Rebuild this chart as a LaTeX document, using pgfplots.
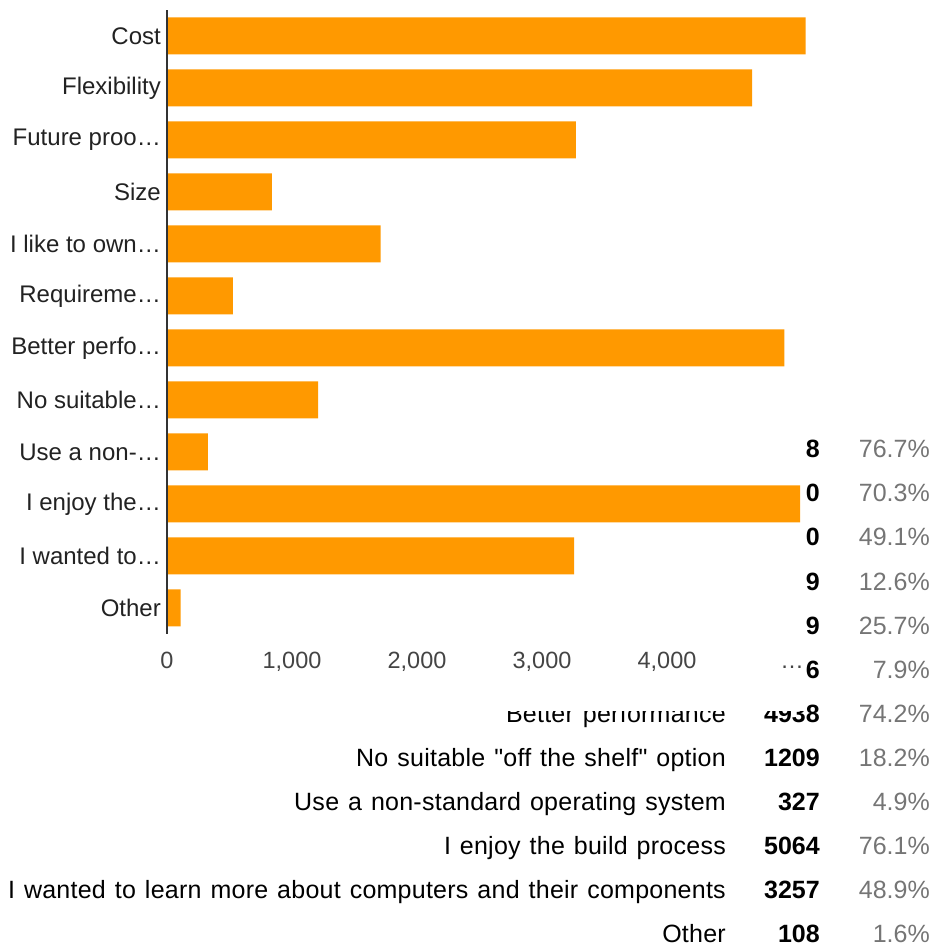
\documentclass[border=0pt]{standalone}
\usepackage{fontspec}
\setmainfont{Liberation Sans}[Ligatures=TeXOff]
\newfontfamily\labelfamily{Liberation Sans}[Ligatures=TeXOff, LetterSpace=1, WordSpace=1.25]
\usepackage{pgfplots}
\pgfplotsset{compat=1.18}
\definecolor{barorange}{HTML}{FF9900}
\definecolor{axisdark}{HTML}{333333}
\definecolor{lbl}{HTML}{222222}
\definecolor{tickgrey}{HTML}{444444}
\definecolor{pctgrey}{HTML}{757575}
\newcommand\tablefont{\fontsize{25bp}{30bp}\selectfont}
\newcommand\catfont{\fontsize{24bp}{28bp}\selectfont}
\newcommand\tickfont{\fontsize{23.5bp}{28bp}\selectfont}
\begin{document}
\begin{tikzpicture}
\path (0bp,0bp) rectangle (934bp,946bp);
% summary table (partly hidden behind the chart)
\foreach \cnt/\pct [count=\k from 0] in {5108/76.7, 4680/70.3, 3270/49.1, 839/12.6, 1709/25.7, 526/7.9, 4938/74.2, 1209/18.2, 327/4.9, 5064/76.1, 3257/48.9, 108/1.6} {
  \node[anchor=base east, inner sep=0pt, font=\tablefont\bfseries, text=black] at (820bp, {(488-44*\k)*1bp}) {\cnt};
  \node[anchor=base east, inner sep=0pt, font=\tablefont, text=pctgrey] at (930bp, {(488-44*\k)*1bp}) {\pct\%};
}
\foreach \lab [count=\k from 6] in {Better performance, No suitable "off the shelf" option, Use a non-standard operating system, I enjoy the build process, I wanted to learn more about computers and their components, Other} {
  \node[anchor=base east, inner sep=0pt, font=\labelfamily\tablefont, text=black] at (726bp, {(488-44*\k)*1bp}) {\lab};
}
% chart background covering the table
\fill[white] (0bp,235bp) rectangle (806bp,946bp);
\begin{axis}[
  at={(167bp,312bp)}, anchor=south west,
  scale only axis, width=639bp, height=624bp,
  xmin=0, xmax=5112, ymin=-0.5, ymax=11.5,
  xbar, bar width=37bp, bar shift=0pt,
  axis x line*=bottom, axis y line*=left,
  axis line style={-},
  x axis line style={draw=none},
  y axis line style={draw=axisdark, line width=2bp},
  axis on top,
  major tick length=0pt, tick style={draw=none},
  ytick={0,...,11},
  yticklabels={Other, I wanted to…, I enjoy the…, Use a non-…, No suitable…, Better perfo…, Requireme…, I like to own…, Size, Future proo…, Flexibility, Cost},
  yticklabel style={font=\catfont, text=lbl, anchor=east, inner sep=0pt, xshift=-6bp},
  xtick={0,1000,2000,3000,4000,5000},
  xticklabels={0,{1,000},{2,000},{3,000},{4,000},…},
  xticklabel style={font=\tickfont, text=tickgrey, anchor=north, inner sep=0pt, yshift=-17bp, text height=17bp, text depth=4bp},
  /pgf/number format/assume math mode=true,
]
\addplot[fill=barorange, draw=none] coordinates {
  (108,0) (3257,1) (5064,2) (327,3) (1209,4) (4938,5)
  (526,6) (1709,7) (839,8) (3270,9) (4680,10) (5108,11)
};
\end{axis}
\end{tikzpicture}
\end{document}
